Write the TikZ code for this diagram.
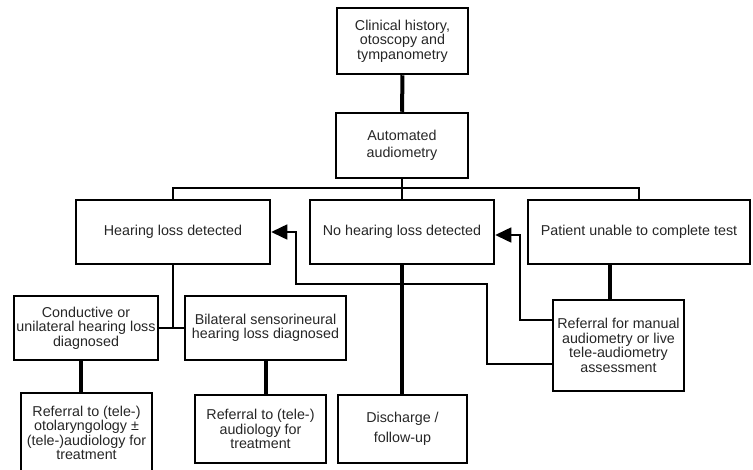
\documentclass[tikz,border=0pt]{standalone}
\usepackage{fontspec}
\setmainfont{Liberation Sans}
\usetikzlibrary{positioning, arrows.meta}

\begin{document}
\begin{tikzpicture}[x=1pt, y=-1pt, >={Triangle[length=16pt, width=15pt]}]
    \tikzset{
        block/.style={
                rectangle, draw, line width=2.5pt, inner sep=0pt, align=center,
                font=\fontsize{14.3}{14.5}\selectfont, text=black!85
            },
        thickline/.style={line width=4pt},
        branch/.style={line width=2.2pt},
        link/.style={line width=1.5pt}
    }
    \useasboundingbox (0,0) rectangle (753,469);

    % Boxes
    \node[block, minimum width=131pt, minimum height=66pt] (clin) at (402.5,41) {Clinical history,\\otoscopy and\\tympanometry};
    \node[block, minimum width=132pt, minimum height=65pt] (auto) at (402,145.5) {Automated\\[2pt]audiometry};

    \node[block, minimum width=194pt, minimum height=64pt] (hld) at (173,232) {Hearing loss detected};
    \node[block, minimum width=184pt, minimum height=64pt] (nhl) at (402,232) {No hearing loss detected};
    \node[block, minimum width=222pt, minimum height=64pt] (pu) at (639,232) {Patient unable to complete test};

    \node[block, minimum width=144pt, minimum height=64pt] (cond) at (86,328) {Conductive or\\unilateral hearing loss\\diagnosed};
    \node[block, minimum width=161pt, minimum height=64pt] (bil) at (265.5,328) {Bilateral sensorineural\\hearing loss diagnosed};
    \node[block, minimum width=131pt, minimum height=91pt] (refm) at (618.5,345.5) {Referral for manual\\audiometry or live\\tele-audiometry\\assessment};

    \node[block, minimum width=131pt, minimum height=80pt] (refent) at (86.5,433) {Referral to (tele-)\\otolaryngology ±\\(tele-)audiology for\\treatment};
    \node[block, minimum width=131pt, minimum height=68pt] (refaud) at (260.5,429) {Referral to (tele-)\\audiology for\\treatment};
    \node[block, minimum width=129pt, minimum height=68pt] (disch) at (402.5,429) {Discharge /\\[5pt]follow-up};

    % Main flow
    \draw[thickline] (clin) -- (auto);
    \draw[branch] (auto.south) -- ++(0,9) coordinate (fork);
    \draw[branch] (hld.north) |- (fork) -| (pu.north);
    \draw[branch] (fork) -- (nhl.north);

    % Hearing loss branch
    \draw[branch] (hld.south) -- (hld.south |- cond.east) coordinate (split);
    \draw[branch] (cond.east) -- (bil.west);
    \draw[thickline] ([xshift=-5pt]cond.south) -- ([xshift=-5pt]cond.south |- refent.north);
    \draw[thickline] (bil.south) -- (bil.south |- refaud.north);

    % Other branches
    \draw[thickline] (nhl.south) -- (nhl.south |- disch.north);
    \draw[thickline] ([xshift=-29pt]pu.south) -- ([xshift=-29pt]pu.south |- refm.north);

    % Feedback arrows
    \draw[link, ->] ([yshift=-18.5pt]refm.west) -| (487,284) -| (296,232) -- (hld.east);
    \draw[link, ->] ([yshift=25.5pt]refm.west) -| (520,235) -- ([yshift=-3pt]nhl.east);
\end{tikzpicture}
\end{document}
